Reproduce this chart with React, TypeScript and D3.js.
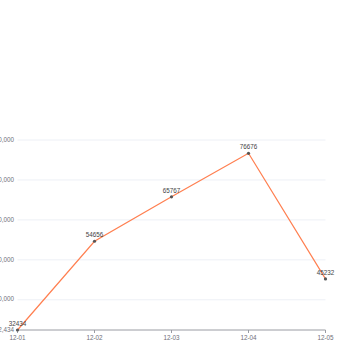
import React from "react";
import * as d3 from "d3";

const categories = ["12-01", "12-02", "12-03", "12-04", "12-05"];
const values = [32434, 54656, 65767, 76676, 45232];
const yTicks = [40000, 50000, 60000, 70000, 80000];
const yMin = 32434;
const yMax = 80000;

export default function App() {
  const W = 350, H = 350;
  const x = d3.scalePoint<string>().domain(categories).range([17.5, 325.5]);
  const y = d3.scaleLinear().domain([yMin, yMax]).range([330, 140]);
  const line = d3
    .line<number>()
    .x((_, i) => x(categories[i]) as number)
    .y((d) => y(d));
  const fmt = d3.format(",");
  const font = "sans-serif";
  return (
    <svg width={W} height={H} style={{ position: "absolute", left: 0, top: 0 }}>
      <rect width={W} height={H} fill="#fff" />
      {yTicks.map((t) => (
        <line key={t} x1={17.5} x2={325.5} y1={y(t)} y2={y(t)} stroke="#EDF0F6" strokeWidth={1} />
      ))}
      {[yMin, ...yTicks].map((t) => (
        <text key={"l" + t} x={14} y={y(t)} textAnchor="end" dominantBaseline="middle" fontSize={6.3} fill="#6E7079" fontFamily={font}>
          {fmt(t)}
        </text>
      ))}
      <line x1={17.5} x2={325.5} y1={330} y2={330} stroke="#9A9CA3" strokeWidth={1} />
      {categories.map((c) => (
        <g key={c}>
          <line x1={x(c)} x2={x(c)} y1={330} y2={333} stroke="#9A9CA3" strokeWidth={1} />
          <text x={x(c)} y={338.5} textAnchor="middle" dominantBaseline="middle" fontSize={6.3} fill="#6E7079" fontFamily={font}>
            {c}
          </text>
        </g>
      ))}
      <path d={line(values) || ""} fill="none" stroke="#FF7F50" strokeWidth={1.2} />
      {values.map((v, i) => (
        <g key={i}>
          <circle cx={x(categories[i])} cy={y(v)} r={1.6} fill="#555" />
          <text x={x(categories[i])} y={y(v) - 6} textAnchor="middle" dominantBaseline="middle" fontSize={6.3} fill="#444" fontFamily={font}>
            {v}
          </text>
        </g>
      ))}
    </svg>
  );
}
